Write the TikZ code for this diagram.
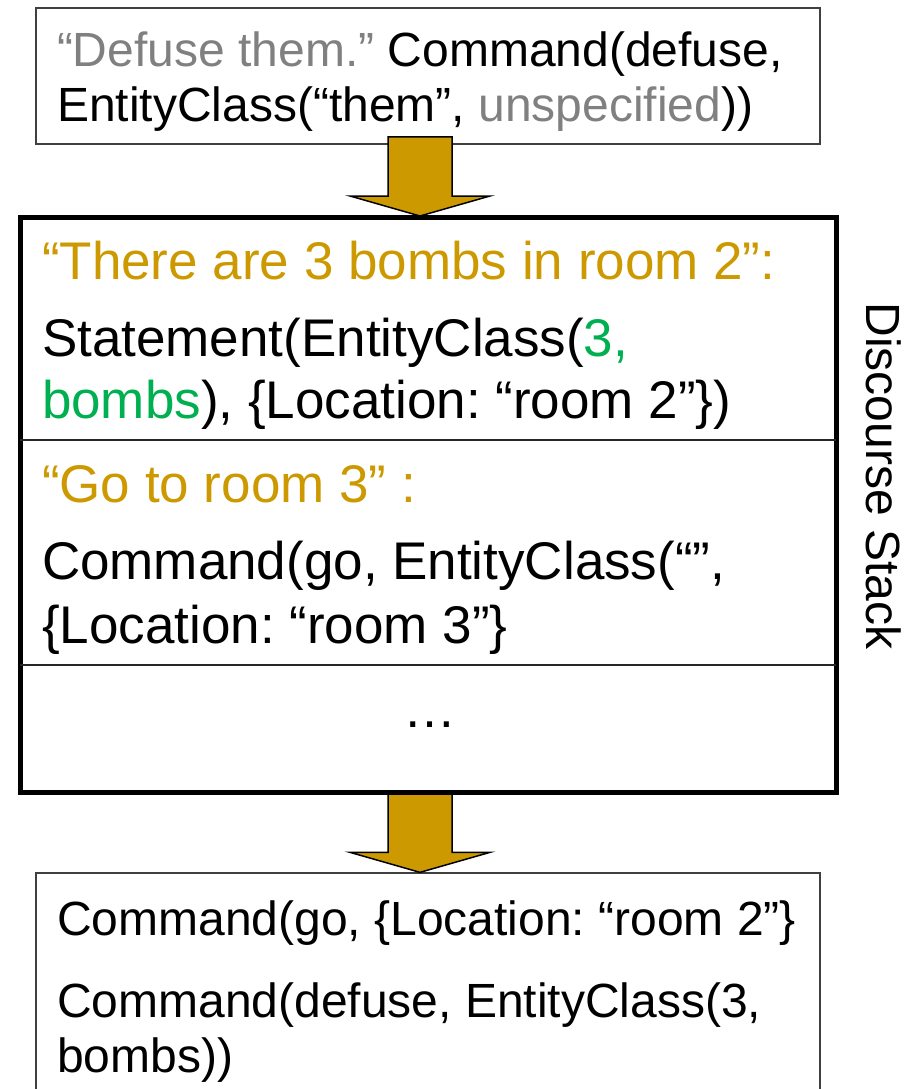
\documentclass[tikz,border=0pt]{standalone}
\usepackage{fontspec}
\setmainfont{Liberation Sans}
\usetikzlibrary{calc}
\frenchspacing
\definecolor{gold}{HTML}{CC9900}
\definecolor{okgreen}{HTML}{00B050}
\definecolor{softgray}{HTML}{808080}
\newcommand{\smalltxt}{\fontsize{48}{55}\selectfont}
\newcommand{\bigtxt}{\fontsize{53}{62}\selectfont}
\tikzset{
  thinbox/.style={draw=black!75, line width=1.3pt, fill=white, inner sep=0pt},
  stackbox/.style={draw=black, line width=5pt, inner sep=0pt},
  divider/.style={draw=black!85, line width=1.6pt},
  txt/.style={anchor=base west, inner sep=0pt, outer sep=0pt},
  downarrow/.pic={
    \draw[fill=gold, draw=black, line width=1.5pt, line join=miter]
      (-32,-79) -- (32,-79) -- (32,-20) -- (70,-20) -- (0,0)
      -- (-70,-20) -- (-32,-20) -- cycle;
  }
}
\begin{document}
\begin{tikzpicture}[x=1pt, y=-1pt]
\useasboundingbox (0,0) rectangle (911,1089);

% input utterance
\node[thinbox, minimum width=784pt, minimum height=136pt] (cmd) at (428,76) {};
\node[txt] (cmd1) at (57,67) {\smalltxt\textcolor{softgray}{“Defuse them.”} Command(defuse,};
\node[txt] (cmd2) at (57,122) {\smalltxt EntityClass(“them”, \textcolor{softgray}{unspecified}))};

% resolved output
\node[thinbox, minimum width=784pt, minimum height=240pt] (out) at (428,993) {};
\node[txt] (out1) at (57,935) {\smalltxt Command(go, \{Location: “room 2”\}};
\node[txt] (out2) at (57,1017) {\smalltxt Command(defuse, EntityClass(3,};
\node[txt] (out3) at (57,1072) {\smalltxt bombs))};

% arrows into and out of the stack
\coordinate (intip) at (420,216);
\coordinate (outtip) at ($(out.north)+(-8,0)$);
\pic at (intip) {downarrow};
\pic at (outtip) {downarrow};

% discourse stack
\node[stackbox, minimum width=816pt, minimum height=575pt] (stack) at (428,504.5) {};
\draw[divider] (20,440) -- (836,440);
\draw[divider] (20,665) -- (836,665);

\node[txt] (s1) at (42,279) {\bigtxt\textcolor{gold}{“There are 3 bombs in room 2”:}};
\node[txt] (s2) at (42,356) {\bigtxt Statement(EntityClass(\textcolor{okgreen}{3,}};
\node[txt] (s3) at (42,418) {\bigtxt\textcolor{okgreen}{bombs}), \{Location: “room 2”\})};
\node[txt] (s4) at (42,502) {\bigtxt\textcolor{gold}{“Go to room 3” :}};
\node[txt] (s5) at (42,579) {\bigtxt Command(go, EntityClass(“”,};
\node[txt] (s6) at (42,643) {\bigtxt\{Location: “room 3”\}};
\node[anchor=base, inner sep=0pt] (dots) at (430,727) {\bigtxt …};

\node[anchor=base, inner sep=0pt, rotate=-90] (label) at (866,476) {\fontsize{48}{55}\selectfont Discourse Stack};
\end{tikzpicture}
\end{document}
